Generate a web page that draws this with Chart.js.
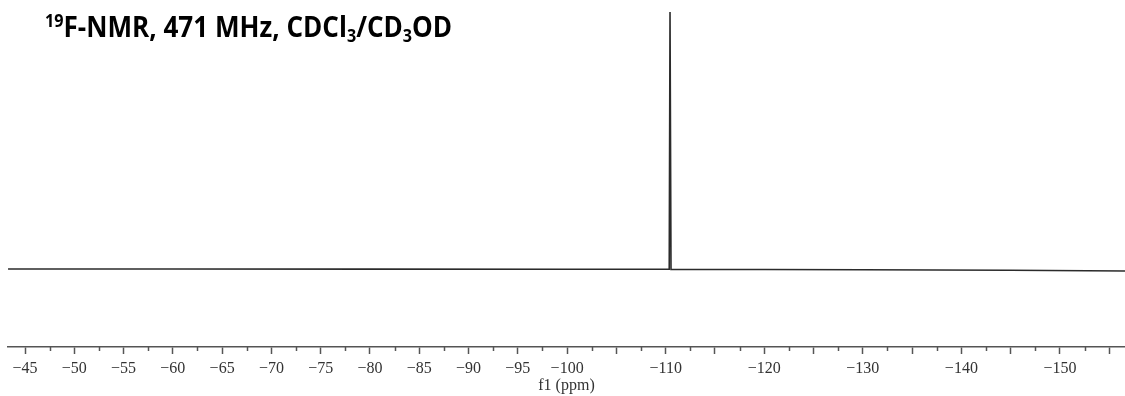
<!DOCTYPE html>
<html>
<head>
<meta charset="utf-8">
<script src="https://cdn.jsdelivr.net/npm/chart.js@4"></script>
<style>
  html, body { margin: 0; padding: 0; background: #fff; }
  #wrap { position: relative; width: 1125px; height: 396px; }
  #title {
    position: absolute; left: 45px; top: 12px;
    font-family: 'Open Sans', sans-serif; font-weight: 700; font-size: 28px;
    color: #000; white-space: nowrap; transform-origin: left top; line-height: 1;
  }
  #title sup { font-size: 0.62em; vertical-align: 0.55em; }
  #title sub { font-size: 0.62em; vertical-align: -0.3em; }
</style>
</head>
<body>
<div id="wrap">
  <canvas id="spec" width="1125" height="396"></canvas>
  <div id="title"><sup>19</sup>F-NMR, 471 MHz, CDCl<sub>3</sub>/CD<sub>3</sub>OD</div>
</div>
<script>
// chemical shift (ppm) and intensity (% of tallest peak)
const shiftPpm  = [-43.28, -60, -80, -100, -110.36, -110.44, -110.46, -110.54, -120, -130, -145, -156.6];
const intensity = [0, 0, -0.05, -0.1, -0.1, 100, 100, -0.2, -0.2, -0.3, -0.5, -0.8];

const majorTicks   = [-45, -50, -55, -60, -65, -70, -75, -80, -85, -90, -95, -100, -105, -110, -115,
                      -120, -125, -130, -135, -140, -145, -150, -155];
const labeledTicks = [-45, -50, -55, -60, -65, -70, -75, -80, -85, -90, -95, -100,
                      -110, -120, -130, -140, -150];
const minorTicks   = [-47.5, -52.5, -57.5, -62.5, -67.5, -72.5, -77.5, -82.5, -87.5, -92.5, -97.5,
                      -102.5, -107.5, -112.5, -117.5, -122.5, -127.5, -132.5, -137.5, -142.5,
                      -147.5, -152.5];

// short ticks between the labelled ones
const minorTickPlugin = {
  id: 'minorTicks',
  afterDraw(chart) {
    const scale = chart.scales.x;
    const ctx = chart.ctx;
    ctx.save();
    ctx.strokeStyle = '#555';
    ctx.lineWidth = 1.5;
    minorTicks.forEach(v => {
      const x = Math.round(scale.getPixelForValue(v)) + 0.5;
      ctx.beginPath();
      ctx.moveTo(x, scale.top);
      ctx.lineTo(x, scale.top + 4);
      ctx.stroke();
    });
    ctx.restore();
  }
};

new Chart(document.getElementById('spec'), {
  type: 'line',
  data: {
    datasets: [{
      data: shiftPpm.map((x, i) => ({ x, y: intensity[i] })),
      borderColor: '#2b2b2b',
      borderWidth: 1.6,
      pointRadius: 0,
      tension: 0,
    }]
  },
  options: {
    responsive: false,
    animation: false,
    layout: { padding: { left: 8, right: 0, top: 0, bottom: 0 } },
    scales: {
      x: {
        type: 'linear',
        reverse: true,
        min: -156.6,
        max: -43.275,
        afterBuildTicks: s => { s.ticks = majorTicks.map(v => ({ value: v })); },
        afterFit: s => { s.height = 49; },
        ticks: {
          autoSkip: false,
          maxRotation: 0,
          padding: 5,
          color: '#333',
          font: { family: "'Liberation Serif', serif", size: 16 },
          callback: v => labeledTicks.includes(v) ? '\u2212' + Math.abs(v) : '',
        },
        grid: { drawOnChartArea: false, tickLength: 7, tickColor: '#555', tickWidth: 1.5 },
        border: { color: '#555', width: 1.5 },
        title: {
          display: true,
          text: 'f1 (ppm)',
          color: '#333',
          padding: { top: 0, bottom: 1 },
          font: { family: "'Liberation Serif', serif", size: 16 },
        },
      },
      y: { display: false, min: -30.35, max: 104.67 },
    },
    plugins: { legend: { display: false }, tooltip: { enabled: false } },
  },
  plugins: [minorTickPlugin],
});

// squeeze the heading to the reference width
const t = document.getElementById('title');
t.style.transform = 'scaleX(' + (407 / t.offsetWidth) + ')';
</script>
</body>
</html>
